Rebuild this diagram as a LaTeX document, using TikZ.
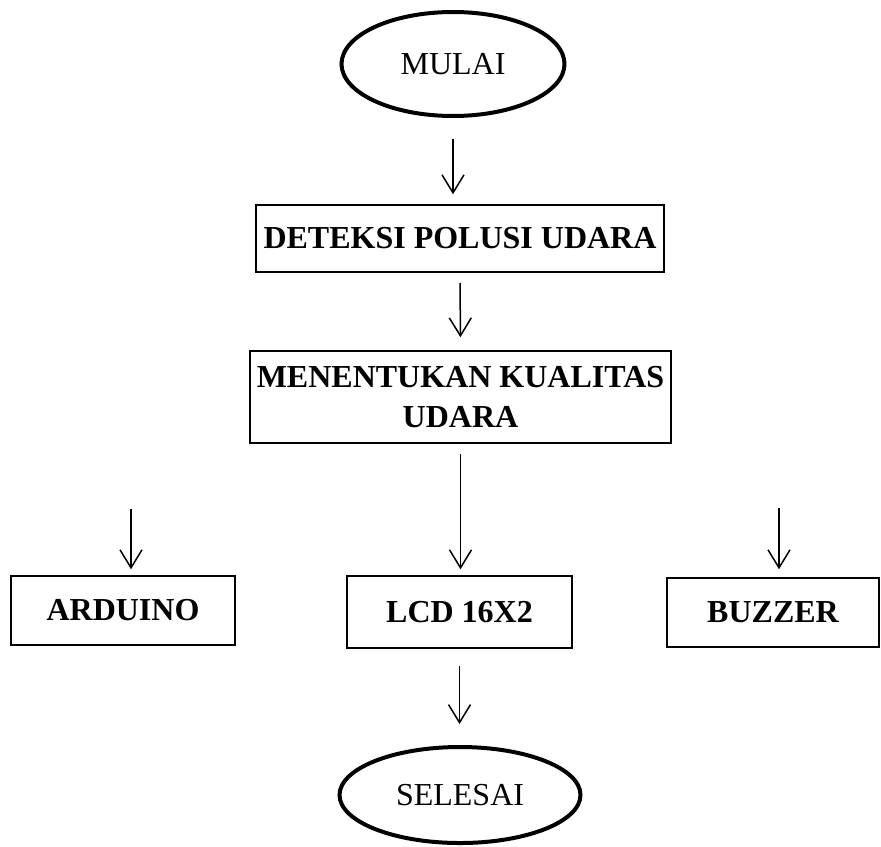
\documentclass[tikz,border=0pt]{standalone}
\usepackage{fontspec}
\setmainfont{Liberation Serif}
\usetikzlibrary{shapes.geometric,arrows.meta}

\begin{document}
\begin{tikzpicture}[x=0.5pt,y=-0.5pt,
        term/.style={ellipse,draw,line width=2pt,inner sep=0pt,font=\fontsize{16}{20}\selectfont},
        box/.style={rectangle,draw,line width=0.75pt,inner sep=0pt,align=center,font=\fontsize{16}{20}\selectfont\bfseries},
        arr/.style={line width=0.75pt,-{Straight Barb[length=9pt,width=11pt]}}]
        \useasboundingbox (0,0) rectangle (881,846);

        \node [term,minimum width=111.5pt,minimum height=52pt] (M) at (453,64) {MULAI};
        \node [box,minimum width=204pt,minimum height=33.5pt] (D) at (460,238.5) {DETEKSI POLUSI UDARA};
        \node [box,minimum width=210.5pt,minimum height=46pt] (K) at (460.5,397) {MENENTUKAN KUALITAS\\UDARA};

        \node [box,minimum width=112pt,minimum height=34.5pt] (A) at (123,610.5) {ARDUINO};
        \node [box,minimum width=112.5pt,minimum height=36pt] (L) at (459.5,612) {LCD 16X2};
        \node [box,minimum width=106pt,minimum height=34.5pt] (B) at (773,612.5) {BUZZER};

        \node [term,minimum width=120.5pt,minimum height=48pt] (S) at (460,795) {SELESAI};

        \coordinate (a) at (131,509);
        \coordinate (b) at (779,508);

        \draw [arr,shorten <=10.5pt,shorten >=5pt] (M.south) -- (M.south |- D.north);
        \draw [arr,shorten <=5pt,shorten >=6.5pt] (D.south) -- (K.north);
        \draw [arr,shorten <=5pt,shorten >=3pt] (K.south) -- (K.south |- L.north);
        \draw [arr,shorten >=3pt] (a) -- (a |- A.north);
        \draw [arr,shorten >=4pt] (b) -- (b |- B.north);
        \draw [arr,shorten <=8.5pt,shorten >=10.5pt] (L.south) -- (L.south |- S.north);

\end{tikzpicture}
\end{document}
